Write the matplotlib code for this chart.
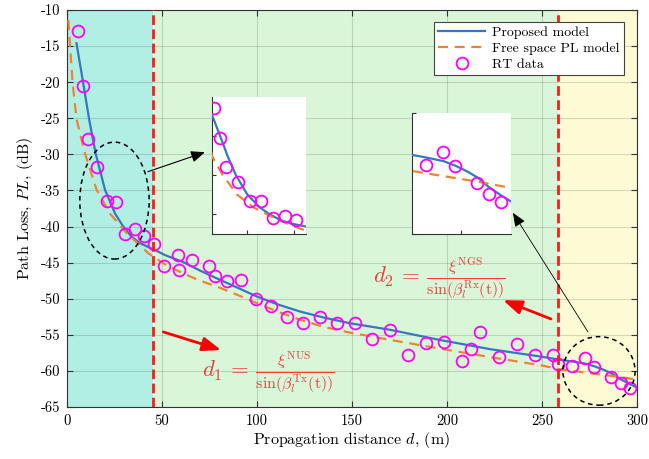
import matplotlib
matplotlib.use('Agg')
import matplotlib.pyplot as plt
from matplotlib.patches import Ellipse

plt.rcParams.update({
    'font.family': 'serif',
    'font.serif': ['cmr10'],
    'mathtext.fontset': 'cm',
    'axes.unicode_minus': False,
    'axes.formatter.use_mathtext': False,
})

# ---------------- data ----------------
model_d = [5, 8.6, 11.7, 15.1, 20, 25.3, 29.6, 34, 38.4, 45, 52, 61, 70, 79, 90,
           100, 111, 123, 135, 149, 170, 196, 223, 249, 258, 266, 273, 278, 283,
           287, 291, 296, 300]
model_pl = [-14.6, -20.2, -25.2, -29.9, -34.9, -38.2, -40.0, -41.4, -42.3, -43.1,
            -44.0, -44.9, -46.1, -47.2, -48.5, -49.7, -50.8, -51.8, -52.6, -53.4,
            -54.3, -55.7, -57.0, -58.0, -58.4, -58.7, -59.0, -59.4, -59.9,
            -60.4, -61.1, -61.8, -62.3]

fs_d = [0.7, 3, 5.1, 9.5, 15.6, 22.6, 31.4, 42.8, 52, 61.2, 70, 78.8, 90, 99.8,
        111, 122.6, 135, 149, 170, 196, 223, 249, 260, 275, 287, 300]
fs_pl = [-11.4, -20.2, -25.2, -29.9, -34.9, -38.2, -40.9, -43.7, -45.3, -46.5,
         -47.5, -48.3, -49.5, -50.6, -51.8, -52.9, -53.9, -54.7, -55.7, -56.9,
         -58.1, -59.2, -59.8, -60.3, -60.7, -61.2]

rt_d = [5.8, 8.5, 11, 16, 21, 26, 30.8, 36, 40.8, 45.9, 50.9, 58.2, 59, 65.8, 74.6,
        77.7, 84, 91.4, 99.3, 107.5, 115.6, 124, 133, 142.3, 151.4, 160.7, 170,
        179.5, 188.8, 198.4, 208, 212.6, 217.5, 227.2, 236.8, 246.3, 256, 258.6,
        265.6, 272.6, 277.5, 286.3, 291.4, 296.3]
rt_pl = [-12.9, -20.5, -27.9, -31.8, -36.5, -36.6, -41.0, -40.3, -41.3, -42.4,
         -45.5, -44.0, -46.0, -44.6, -45.5, -46.9, -47.6, -47.4, -50.0, -51.0,
         -52.6, -53.4, -52.6, -53.3, -53.3, -55.6, -54.3, -57.8, -56.1, -56.0,
         -58.6, -57.0, -54.6, -58.1, -56.3, -57.8, -57.8, -59.0, -59.3, -58.2,
         -59.4, -60.8, -61.7, -62.4]

x_ticks = [0, 50, 100, 150, 200, 250, 300]
y_ticks = [-65, -60, -55, -50, -45, -40, -35, -30, -25, -20, -15, -10]
boundaries = [45.3, 258.6]

legend_labels = ['Proposed model', 'Free space PL model', 'RT data']
d1_text = r'$d_1\,=\,\frac{\xi^{\mathrm{NUS}}}{\sin(\beta_l^{\mathrm{Tx}}(\mathrm{t}))}$'
d2_text = r'$d_2\,=\,\frac{\xi^{\mathrm{NGS}}}{\sin(\beta_l^{\mathrm{Rx}}(\mathrm{t}))}$'

# ---------------- styles ----------------
BLUE = '#3479bd'
ORANGE = '#f08330'
MAG = '#ff00ff'
RED = '#ff1a1a'
TXTRED = '#f03c3c'
CYAN_BG = '#b1efe4'
GREEN_BG = '#d9f6d9'
YELLOW_BG = '#fcfbd3'


def draw_series(a, xlim, ms=8.5):
    a.plot(model_d, model_pl, color=BLUE, lw=1.6, zorder=3)
    a.plot(fs_d, fs_pl, color=ORANGE, lw=1.6, ls=(0, (4.5, 3)), zorder=3)
    pts = [(d, p) for d, p in zip(rt_d, rt_pl) if xlim[0] <= d <= xlim[1]]
    a.plot([q[0] for q in pts], [q[1] for q in pts], ls='none', marker='o',
           ms=ms, mfc='none', mec=MAG, mew=1.3, zorder=4)


fig = plt.figure(figsize=(6.49, 4.59), dpi=100)
ax = fig.add_axes([0.1032, 0.1133, 0.8783, 0.8649])

ax.axvspan(0, boundaries[0] + 0.2, color=CYAN_BG, lw=0, zorder=0.1)
ax.axvspan(boundaries[0] + 0.7, boundaries[1] + 0.3, color=GREEN_BG, lw=0, zorder=0.1)
ax.axvspan(boundaries[1] + 0.8, 300, color=YELLOW_BG, lw=0, zorder=0.1)

ax.set_axisbelow(True)
ax.grid(True, color='k', alpha=0.14, lw=0.8)

l1, = ax.plot(model_d, model_pl, color=BLUE, lw=1.6, zorder=3)
l2, = ax.plot(fs_d, fs_pl, color=ORANGE, lw=1.6, ls=(0, (4.5, 3)), zorder=3)
l3, = ax.plot(rt_d, rt_pl, ls='none', marker='o', ms=8.5, mfc='none', mec=MAG,
              mew=1.3, zorder=4)

for b in boundaries:
    ax.axvline(b, color=RED, lw=2.0, ls=(0, (3.5, 1.6)), zorder=5)

ax.set_xlim(0, 300)
ax.set_ylim(-65, -10)
ax.set_xticks(x_ticks)
ax.set_yticks(y_ticks)
ax.tick_params(direction='in', top=True, right=True, length=4, labelsize=10.5,
               color='#333333', pad=5)
for s in ax.spines.values():
    s.set_color('#333333')
    s.set_linewidth(0.8)

ax.set_xlabel(r'Propagation distance $d$, (m)', fontsize=11.5, labelpad=2)
ax.set_ylabel(r'Path Loss, $PL$, (dB)', fontsize=11.5, labelpad=4)

leg = ax.legend([l1, l2, l3], legend_labels, loc='upper right',
                bbox_to_anchor=(0.977, 0.970), borderaxespad=0, fontsize=10,
                fancybox=False, framealpha=1, edgecolor='#444444',
                handlelength=3.4, labelspacing=0.25, borderpad=0.3,
                handletextpad=0.5)
leg.get_frame().set_linewidth(0.8)

# ellipses
ax.add_patch(Ellipse((25, -36.4), 36.5, 16.2, fill=False, ec='k', lw=1.1,
                     ls=(0, (3, 2.5)), zorder=6))
ax.add_patch(Ellipse((280, -60), 38, 9.5, fill=False, ec='k', lw=1.1,
                     ls=(0, (3, 2.5)), zorder=6))

# black arrows to insets
ax.annotate('', xy=(72.6, -29.7), xytext=(42.6, -32.4),
            arrowprops=dict(arrowstyle='-|>,head_length=0.6,head_width=0.25',
                            color='k', lw=0.8, mutation_scale=14,
                            shrinkA=0, shrinkB=0), zorder=7)
ax.annotate('', xy=(234.7, -38.1), xytext=(274.2, -54.6),
            arrowprops=dict(arrowstyle='-|>,head_length=0.6,head_width=0.25',
                            color='k', lw=0.6, mutation_scale=14,
                            shrinkA=0, shrinkB=0), zorder=7)

# red arrows
ax.annotate('', xy=(81.1, -57.1), xytext=(50.7, -54.6),
            arrowprops=dict(arrowstyle='-|>,head_length=0.8,head_width=0.3',
                            color='#ff0000', lw=2, mutation_scale=14,
                            shrinkA=0, shrinkB=0), zorder=7)
ax.annotate('', xy=(229.5, -50.2), xytext=(254.7, -52.8),
            arrowprops=dict(arrowstyle='-|>,head_length=0.8,head_width=0.3',
                            color='#ff0000', lw=2, mutation_scale=14,
                            shrinkA=0, shrinkB=0), zorder=7)

ax.text(70.9, -60.3, d1_text, color=TXTRED, fontsize=16.5, ha='left', va='center',
        zorder=7)
ax.text(161.2, -47.3, d2_text, color=TXTRED, fontsize=16.5, ha='left', va='center',
        zorder=7)

# insets
def style_inset(a):
    a.set_facecolor('white')
    for side in ['top', 'right']:
        a.spines[side].set_visible(False)
    for side in ['left', 'bottom']:
        a.spines[side].set_color('#333333')
        a.spines[side].set_linewidth(0.8)
    a.tick_params(direction='in', length=3, labelleft=False, labelbottom=False,
                  color='#333333')

ins1 = fig.add_axes([0.3267, 0.4902, 0.1448, 0.2985])
draw_series(ins1, (5, 45))
ins1.set_xlim(5, 45)
ins1.set_ylim(-45, -10)
ins1.set_xticks([20, 40])
ins1.set_yticks([-40, -30, -20])
style_inset(ins1)

ins2 = fig.add_axes([0.6343, 0.4902, 0.1525, 0.2643])
draw_series(ins2, (260, 300))
ins2.set_xlim(260, 300)
ins2.set_ylim(-65, -55)
ins2.set_xticks([280])
ins2.set_yticks([-65, -55])
style_inset(ins2)

fig.savefig('out.png', dpi=100)
